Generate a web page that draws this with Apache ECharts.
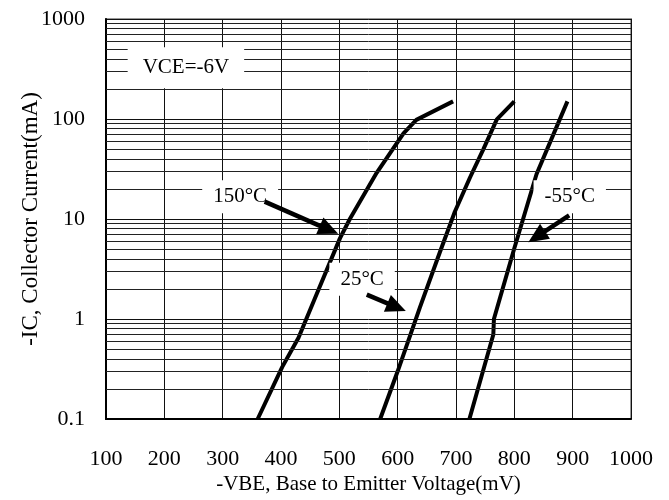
<!DOCTYPE html>
<html>
<head>
<meta charset="utf-8">
<script src="https://cdn.jsdelivr.net/npm/echarts@6/dist/echarts.min.js"></script>
<style>
html,body{margin:0;padding:0;background:#fff;}
#c{width:669px;height:500px;}
</style>
</head>
<body>
<div id="c"></div>
<script>
// ---- data ----
const xTicks = [100,200,300,400,500,600,700,800,900,1000];
const yTicks = [0.1,1,10,100,1000];

const vbe150 = [360,402,430,458,501,518,564,610,632,695];
const ic150  = [0.1,0.33,0.65,1.6,6.4,10,29,72,98,150];

const vbe25 = [570,600,638,672,698,724,747,770,800];
const ic25  = [0.1,0.3,1.3,4.6,11.8,26,50,99,150];

const vbeM55 = [723,764,765,800,838,891];
const icM55  = [0.1,0.7,1.0,5.1,28,150];

// annotations (data coordinates)
const labelTexts = ['VCE=-6V','150°C','25°C','-55°C'];
const labelAt    = [[237,326],[330,16.7],[539,2.5],[895,16.7]];
const arrowFrom  = [[372,14.9],[547,1.75],[894,10.9]];
const arrowTo    = [[498,7.1],[614,1.2],[824,5.85]];

const decades = [0.1,1,10,100];
const minorSteps = [2,3,4,5,6,7,8,9];

const FONT = '"Liberation Serif","Times New Roman",serif';

const zip = (a,b)=>a.map((v,i)=>[v,b[i]]);
const minorLines = [];
decades.forEach(d=>minorSteps.forEach(k=>minorLines.push({yAxis:+(d*k).toPrecision(3)})));

const chart = echarts.init(document.getElementById('c'));
const curveStyle = {color:'#000', width:4};
chart.setOption({
  animation:false,
  backgroundColor:'#fff',
  grid:{left:106,right:38,top:19,bottom:78,show:true,borderColor:'#999',borderWidth:2,backgroundColor:'transparent'},
  xAxis:{
    type:'value',min:xTicks[0],max:xTicks[xTicks.length-1],interval:100,
    axisLine:{show:true,onZero:false,lineStyle:{color:'#000',width:2}},
    axisTick:{show:false},
    axisLabel:{color:'#000',fontFamily:FONT,fontSize:22,margin:29,
      formatter:v=>{const m=xTicks.find(t=>t===v);return m===undefined?'':String(m);}},
    splitLine:{show:true,lineStyle:{color:'#111',width:1}},
    name:'-VBE, Base to Emitter Voltage(mV)',nameLocation:'middle',nameGap:55,nameMoveOverlap:false,
    nameTextStyle:{color:'#000',fontFamily:FONT,fontSize:21}
  },
  yAxis:{
    type:'log',logBase:10,min:yTicks[0],max:yTicks[yTicks.length-1],
    axisLine:{show:true,lineStyle:{color:'#000',width:2}},
    axisTick:{show:false},
    axisLabel:{color:'#000',fontFamily:FONT,fontSize:22,margin:21,
      formatter:v=>{const m=yTicks.find(t=>Math.abs(t-v)/t<1e-6);return m===undefined?'':String(m);}},
    splitLine:{show:true,lineStyle:{color:'#111',width:1}},
    name:'-IC, Collector Current(mA)',nameLocation:'middle',nameGap:64,nameMoveOverlap:false,
    nameTextStyle:{color:'#000',fontFamily:FONT,fontSize:23}
  },
  series:[
    {type:'line',name:'grid',data:[],symbol:'none',silent:true,
      markLine:{silent:true,symbol:['none','none'],label:{show:false},
        lineStyle:{color:'#222',width:1,type:'solid'},emphasis:{disabled:true},
        data:minorLines}},
    {type:'line',name:'150',data:zip(vbe150,ic150),symbol:'none',lineStyle:curveStyle,z:3},
    {type:'line',name:'25',data:zip(vbe25,ic25),symbol:'none',lineStyle:curveStyle,z:3},
    {type:'line',name:'-55',data:zip(vbeM55,icM55),symbol:'none',lineStyle:curveStyle,z:3}
  ]
});

function buildGraphics(){
  const els = [];
  const pads = [[10,15],[6,11],[6,11],[6,11]];
  labelTexts.forEach((t,i)=>{
    const p = chart.convertToPixel({gridIndex:0}, labelAt[i]);
    els.push({type:'text',z:100,x:p[0],y:p[1],
      style:{text:t,font:'21px '+FONT,fill:'#000',align:'center',verticalAlign:'middle',
        backgroundColor:'#fff',padding:pads[i]}});
  });
  arrowFrom.forEach((f,i)=>{
    const a = chart.convertToPixel({gridIndex:0}, f);
    const b = chart.convertToPixel({gridIndex:0}, arrowTo[i]);
    const dx=b[0]-a[0], dy=b[1]-a[1], L=Math.hypot(dx,dy), ux=dx/L, uy=dy/L;
    const hl=20, hw=9;
    const base=[b[0]-ux*hl,b[1]-uy*hl];
    els.push({type:'line',z:101,shape:{x1:a[0],y1:a[1],x2:base[0]+ux*2,y2:base[1]+uy*2},
      style:{stroke:'#000',lineWidth:4.5}});
    els.push({type:'polygon',z:101,shape:{points:[b,[base[0]-uy*hw,base[1]+ux*hw],[base[0]+uy*hw,base[1]-ux*hw]]},
      style:{fill:'#000'}});
  });
  chart.setOption({graphic:els});
}
buildGraphics();
</script>
</body>
</html>
